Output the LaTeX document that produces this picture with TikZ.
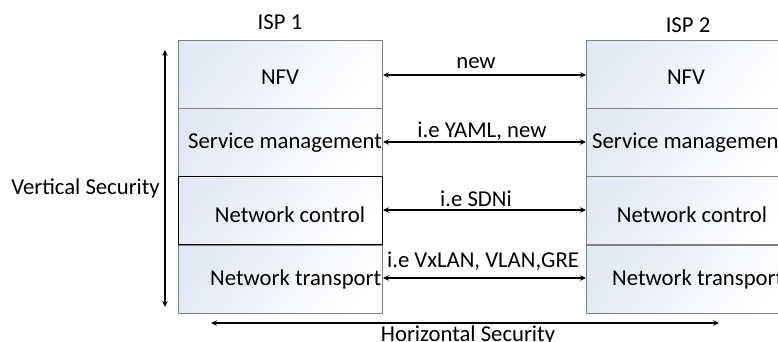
\documentclass[tikz,border=0pt]{standalone}
\usepackage{fontspec}
\setmainfont{Carlito}
\usetikzlibrary{arrows.meta}
\definecolor{paneblue}{HTML}{E2E9F4}
\begin{document}
\begin{tikzpicture}[x=1pt,y=-1pt,
  layer/.style={draw=black!50, line width=1pt, rectangle, inner sep=0pt,
    minimum width=204pt, minimum height=68pt, anchor=north west,
    left color=paneblue, right color=white, shading angle=50},
  txt/.style={font=\fontsize{22.7}{26}\selectfont, inner sep=0pt},
  tips/.style={{Stealth[length=6pt,width=5.5pt]}-{Stealth[length=6pt,width=5.5pt]}},
  link/.style={line width=1.3pt, tips},
  secarrow/.style={line width=1.3pt, tips}]
\useasboundingbox (0,0) rectangle (778,342);
\clip (0,0) rectangle (778,342);

% ISP 1 protocol stack
\node[layer] (a1) at (178,40) {};
\node[layer] (a2) at (178,108) {};
\node[layer, draw=black] (a3) at (178,176) {};
\node[layer] (a4) at (178,244.5) {};

% ISP 2 protocol stack
\node[layer] (b1) at (586,40) {};
\node[layer] (b2) at (586,108) {};
\node[layer] (b3) at (586,176) {};
\node[layer] (b4) at (586,244.5) {};

% stack headings
\node[txt] (isp1) at (280,22) {ISP 1};
\node[txt] (isp2) at (688,25) {ISP 2};

% layer names
\node[txt] (t1) at (280,77) {NFV};
\node[txt, anchor=west] (t2) at (188,143) {Service management};
\node[txt] (t3) at (290,215) {Network control};
\node[txt, anchor=west] (t4) at (210,279) {Network transport};
\node[txt] (u1) at (686,77) {NFV};
\node[txt, anchor=west] (u2) at (592,143) {Service management};
\node[txt] (u3) at (692,215) {Network control};
\node[txt, anchor=west] (u4) at (612,279) {Network transport};

% inter-ISP links between matching layers
\draw[link] (a1.east |- 0,75) -- (b1.west |- 0,75);
\draw[link] (a2.east |- 0,142) -- (b2.west |- 0,142);
\draw[link] (a3.east |- 0,210) -- (b3.west |- 0,210);
\draw[link] (a4.east |- 0,278) -- (b4.west |- 0,278);

\node[txt] (l1) at (476,63) {new};
\node[txt] (l2) at (482,131) {i.e YAML, new};
\node[txt] (l3) at (476,199) {i.e SDNi};
\node[txt] (l4) at (483,261) {i.e VxLAN, VLAN,GRE};

% security directions
\coordinate (vtop) at (165,50);
\coordinate (vbot) at (165,307);
\draw[secarrow] (vtop) -- (vbot);
\node[txt, anchor=east] (vs) at (160,188) {Vertical Security};

\coordinate (hl) at (211,323);
\coordinate (hr) at (719,323);
\draw[secarrow] (hl) -- (hr);
\node[txt] (hs) at (468,335) {Horizontal Security};
\end{tikzpicture}
\end{document}
